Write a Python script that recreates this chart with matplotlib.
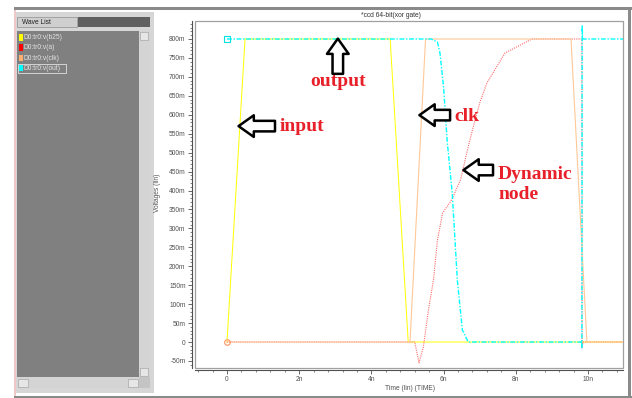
import matplotlib
matplotlib.use("Agg")
import matplotlib.pyplot as plt
from matplotlib.patches import Rectangle
from matplotlib.ticker import MultipleLocator, FuncFormatter

plt.rcParams['font.family'] = ['Liberation Sans', 'DejaVu Sans']

# waveforms (time in ns, voltage in mV)
in_t = [0, 0.5, 4.52, 5.02, 11.0]
in_v = [0, 800, 800, 0, 0]

clk_t = [0, 5.07, 5.5, 9.53, 9.97, 11.0]
clk_v = [0, 0, 800, 800, 0, 0]

dyn_t = [0, 5.2, 5.32, 5.44, 5.58, 5.72, 5.83, 5.97, 6.22, 6.47, 6.66, 6.8,
         7.0, 7.2, 7.7, 8.45, 9.83, 9.84, 9.86, 11.0]
dyn_v = [0, 0, -55, -13, 84, 164, 269, 340, 375, 428, 507, 560,
         631, 684, 763, 800, 800, -15, 0, 0]

out_t = [0, 5.65, 5.83, 5.9, 6.0, 6.1, 6.24, 6.38, 6.52, 6.68, 9.82, 9.83,
         9.84, 9.85, 11.0]
out_v = [800, 800, 792, 763, 673, 530, 393, 164, 32, 0, 0, -15,
         836, 800, 800]

wave_names = ['D0:tr0:v(b25)', 'D0:tr0:v(a)', 'D0:tr0:v(clk)', 'D0:tr0:v(out)']
wave_colors = ['#ffff00', '#ff0000', '#ffb070', '#00ffff']

W, H = 632, 398
fig = plt.figure(figsize=(W / 100, H / 100), dpi=100)
fig.patch.set_facecolor('white')

# window chrome drawn in pixel coordinates
bg = fig.add_axes([0, 0, 1, 1], zorder=0)
bg.set_xlim(0, W)
bg.set_ylim(H, 0)
bg.axis('off')

def box(x0, y0, x1, y1, fc, ec='none', lw=0.6):
    bg.add_patch(Rectangle((x0, y0), x1 - x0, y1 - y0, fc=fc, ec=ec, lw=lw))

box(14, 7, 632, 9.5, '#8a8a8a')
box(14, 395.5, 632, 398, '#8a8a8a')
box(628, 7, 631, 398, '#8a8a8a')
box(14, 9.5, 15.5, 395.5, '#f0c8c8')
box(153, 10.5, 627, 11.3, '#f0c8c8')
box(15.5, 11.5, 154, 393, '#d6d6d6')
box(17, 17, 77, 27, '#cfcfcf', '#9a9a9a')
bg.text(22, 22.5, 'Wave List', fontsize=4.8, color='#202020', va='center')
box(22, 26, 57, 26.4, '#202020')
box(78, 17, 150, 27, '#606060')
box(17, 31, 139, 377, '#808080')
box(139, 31, 150, 377, '#d4d4d4')
box(140, 32, 148, 40, '#e6e6e6', '#b0b0b0')
box(140, 368, 148, 376, '#e6e6e6', '#b0b0b0')
box(17, 377, 139, 388, '#d4d4d4')
box(18, 379, 28, 387, '#e6e6e6', '#b0b0b0')
box(128, 379, 138, 387, '#e6e6e6', '#b0b0b0')
box(139, 377, 150, 388, '#c4c4c4')

for i, (name, col) in enumerate(zip(wave_names, wave_colors)):
    yc = [37.5, 47.5, 58, 68][i]
    box(19, yc - 3.3, 23, yc + 3.3, col)
    bg.text(24, yc, name, fontsize=4.8, color='#e4e4e4', va='center')
box(18, 63.5, 66, 72.5, 'none', '#e0e0e0', 0.6)

bg.text(391, 15.5, '*ccd 64-bit(xor gate)', fontsize=4.8, color='#303030',
        ha='center', va='center')

# plot area
ax = fig.add_axes([195 / W, 1 - 368 / H, 428 / W, 347 / H], zorder=1)
ax.set_xlim(-0.886, 10.97)
ax.set_ylim(-68.6, 847.5)

ax.plot(in_t, in_v, color=wave_colors[0], lw=0.7)
ax.plot(dyn_t, dyn_v, color='#ff6a6a', lw=0.8, ls=(0, (1, 1)))
ax.plot(clk_t, clk_v, color='#ffc896', lw=0.8)
ax.plot(out_t, out_v, color=wave_colors[3], lw=1.0, ls=(0, (3.5, 1.2, 1, 1.2)))
ax.plot([0], [800], marker='s', ms=4, mfc='none', mec='#00e0e0', mew=0.8)
ax.plot([0], [0], marker='o', ms=4, mfc='none', mec='#ff9060', mew=0.8)

ax.add_patch(Rectangle((0, 0), 1, 1, transform=ax.transAxes, fill=False,
                       ec='#a0a0a0', lw=0.9, clip_on=False))
for s in ['top', 'right']:
    ax.spines[s].set_visible(False)
ax.spines['left'].set_position(('outward', 2.2))
ax.spines['bottom'].set_position(('outward', 1.5))
for s in ['left', 'bottom']:
    ax.spines[s].set_color('#505050')
    ax.spines[s].set_linewidth(0.8)

ax.yaxis.set_major_locator(MultipleLocator(50))
ax.yaxis.set_minor_locator(MultipleLocator(10))
ax.yaxis.set_major_formatter(FuncFormatter(lambda v, p: '0' if abs(v) < 1e-9 else f'{int(round(v))}m'))
ax.xaxis.set_major_locator(MultipleLocator(2))
ax.xaxis.set_minor_locator(MultipleLocator(0.4))
ax.xaxis.set_major_formatter(FuncFormatter(lambda v, p: '0' if abs(v) < 1e-9 else f'{int(round(v))}n'))
ax.tick_params(which='major', length=3, width=0.6, color='#505050',
               labelsize=4.8, labelcolor='#505050', pad=1.5)
ax.tick_params(which='minor', length=1.5, width=0.5, color='#505050')

ax.set_xlabel('Time (lin) (TIME)', fontsize=4.8, color='#505050')
ax.xaxis.set_label_coords(0.502, -0.048)
ax.set_ylabel('Voltages (lin)', fontsize=4.8, color='#505050')
ax.yaxis.set_label_coords(-0.0794, 0.504)

# annotations
red = '#e8202a'
tfont = dict(family=['Liberation Serif', 'DejaVu Serif'], fontweight='bold',
             fontsize=14, color=red)
aprops = dict(arrowstyle='simple,head_length=0.55,head_width=0.78,tail_width=0.38',
              fc='white', ec='black', lw=1.8, shrinkA=0, shrinkB=0,
              mutation_scale=20)

ax.annotate('', xy=(0.32, 570), xytext=(1.33, 570), arrowprops=aprops)
ax.text(1.47, 557, 'input', va='baseline', **tfont)

ax.annotate('', xy=(5.33, 599), xytext=(6.18, 599), arrowprops=aprops)
ax.text(6.29, 583, 'clk', va='baseline', **tfont)

ax.annotate('', xy=(6.55, 454), xytext=(7.37, 454), arrowprops=aprops)
ax.text(7.51, 430, 'Dynamic', va='baseline', **tfont)
ax.text(7.51, 378, 'node', va='baseline', **tfont)

ax.annotate('', xy=(3.07, 801), xytext=(3.07, 708), arrowprops=aprops)
ax.text(2.30, 676, 'output', va='baseline', **tfont)

fig.savefig('out.png', dpi=100)
